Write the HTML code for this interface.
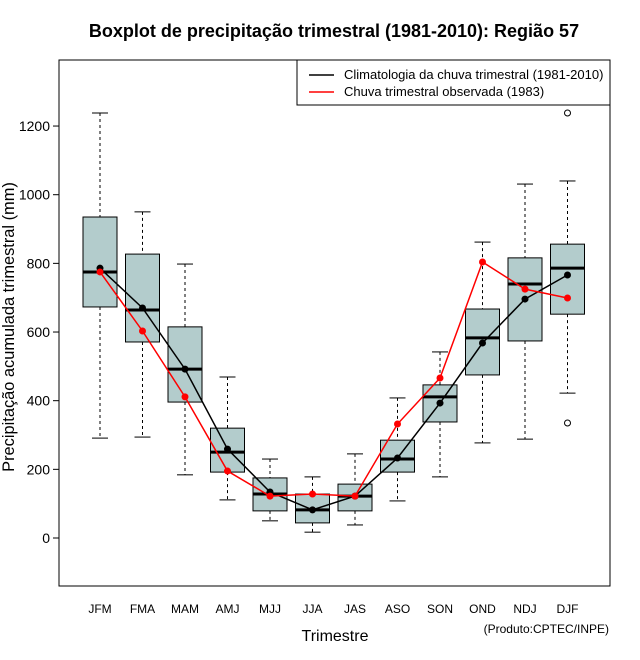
<!DOCTYPE html>
<html><head><meta charset="utf-8"><style>
body{margin:0;background:#fff;}
svg{display:block;font-family:"Liberation Sans","DejaVu Sans",sans-serif;}
</style></head><body>
<svg id="chart" width="640" height="660">
<text x="334" y="37" text-anchor="middle" font-size="18" font-weight="bold">Boxplot de precipitação trimestral (1981-2010): Região 57</text>
<rect x="59" y="60" width="551" height="526" fill="none" stroke="#000"/>
<g id="axes"></g>
<g id="marks"></g>
<text x="335" y="641" text-anchor="middle" font-size="16">Trimestre</text>
<text transform="translate(14,327) rotate(-90)" text-anchor="middle" font-size="16.4">Precipitação acumulada trimestral (mm)</text>
<text x="609" y="633" text-anchor="end" font-size="12">(Produto:CPTEC/INPE)</text>
<g>
<rect x="297" y="60" width="313" height="45" fill="#fff" stroke="#000"/>
<line x1="309" y1="75" x2="334" y2="75" stroke="#000" stroke-width="1.5"/>
<text x="344" y="79" font-size="13">Climatologia da chuva trimestral (1981-2010)</text>
<line x1="309" y1="92" x2="334" y2="92" stroke="#f00" stroke-width="1.5"/>
<text x="344" y="96" font-size="13">Chuva trimestral observada (1983)</text>
</g>
</svg>
<script>
const categories=["JFM","FMA","MAM","AMJ","MJJ","JJA","JAS","ASO","SON","OND","NDJ","DJF"];
const whiskerHigh=[1238,950,798,469,230,178,245,408,542,862,1031,1040];
const q3=[935,827,615,320,175,128,157,285,446,667,816,856];
const median=[775,664,492,250,128,82,122,230,411,583,740,786];
const q1=[673,571,396,192,79,44,79,192,338,475,574,652];
const whiskerLow=[291,294,184,111,50,17,38,108,178,277,288,422];
const outliers=[[11,1238],[11,335]];
const climatology=[786,670,492,259,134,82,122,233,393,568,696,766];
const observed=[775,603,411,195,122,128,122,332,466,804,725,699];
const yTicks=[0,200,400,600,800,1000,1200];
const NS="http://www.w3.org/2000/svg";
const xs=i=>100+i*42.5;
const ys=v=>538-v*0.3433;
function mk(tag,attrs,parent){const e=document.createElementNS(NS,tag);for(const k in attrs)e.setAttribute(k,attrs[k]);parent.appendChild(e);return e;}
const axes=document.getElementById('axes'),marks=document.getElementById('marks');
yTicks.forEach(t=>{
 const l=mk('line',{x1:53,x2:59,y1:ys(t),y2:ys(t),stroke:'#000'},axes);
 
 
 const tx=mk('text',{x:50,y:ys(t)+5,'text-anchor':'end','font-size':14},axes);
 tx.textContent=t;
 
 
});
categories.forEach((c,i)=>{
 const tx=mk('text',{x:xs(i),y:613,'text-anchor':'middle','font-size':12},axes);
 tx.textContent=c;
 
 
 const g=mk('g',{},marks);
 
 
 const x=xs(i),hw=17,cw=8;
 mk('line',{x1:x,x2:x,y1:ys(whiskerHigh[i]),y2:ys(q3[i]),stroke:'#000','stroke-dasharray':'3,3'},g);
 mk('line',{x1:x,x2:x,y1:ys(q1[i]),y2:ys(whiskerLow[i]),stroke:'#000','stroke-dasharray':'3,3'},g);
 mk('line',{x1:x-cw,x2:x+cw,y1:ys(whiskerHigh[i]),y2:ys(whiskerHigh[i]),stroke:'#000'},g);
 mk('line',{x1:x-cw,x2:x+cw,y1:ys(whiskerLow[i]),y2:ys(whiskerLow[i]),stroke:'#000'},g);
 mk('rect',{x:x-hw,y:ys(q3[i]),width:2*hw,height:ys(q1[i])-ys(q3[i]),fill:'#b3cccc',stroke:'#000'},g);
 mk('line',{x1:x-hw,x2:x+hw,y1:ys(median[i]),y2:ys(median[i]),stroke:'#000','stroke-width':3},g);
});
outliers.forEach(o=>{
 const c=mk('circle',{cx:xs(o[0]),cy:ys(o[1]),r:3,fill:'none',stroke:'#000'},marks);
 
 
});
function series(vals,color,name){
 const p=mk('polyline',{points:vals.map((v,i)=>xs(i)+','+ys(v)).join(' '),fill:'none',stroke:color,'stroke-width':1.5},marks);
 
 
 vals.forEach((v,i)=>{
  const c=mk('circle',{cx:xs(i),cy:ys(v),r:3.5,fill:color},marks);
  
  
 });
}
series(climatology,'#000','climatology');
series(observed,'#f00','observed');
</script>
</body></html>
